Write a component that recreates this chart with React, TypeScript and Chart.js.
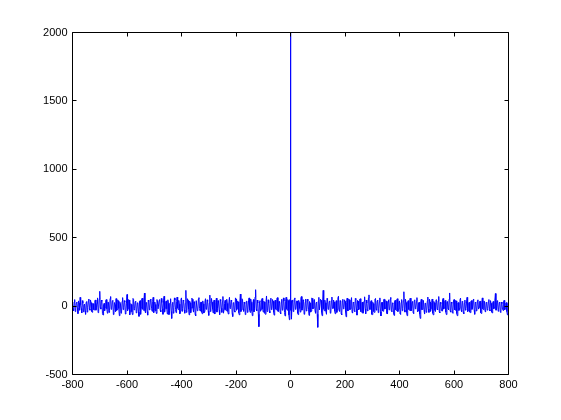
import React, { useEffect, useRef } from "react";
import { Chart, registerables } from "chart.js";

Chart.register(...registerables);

// lags -800, -798, ..., -4
const LEFT_START = -800;
// lags 4, 6, ..., 800
const RIGHT_START = 4;
const SIDE_STEP = 2;

const noiseLeft: number[] = [
  12, -20, -35, 30, 48, -40, -20, 25, 30, -15, -55, 38, 22, -30, 64, 10, -18, -50, 40, 22, -42, 5, 15, -35, -60, 28, 33, -44, -8, 36, 52, -22, -30, 45, 25, -38, -45, 20, 18, -26,
  -28, 38, 45, -30, -12, 20, 60, -48, -40, 50, 108, -10, -22, 44, 35, -56, -65, 12, 20, -34, -10, 42, 48, -20, -52, 30, 28, -46, -34, 55, 70, -24, -15, 36, 42, -62, -58, 26, 10, -40,
  55, -32, -25, 46, 38, -18, -70, 28, 16, -52, -44, 34, 62, -26, -12, 40, 30, -58, -48, 22, 85, -36, -20, 48, 44, -64, -36, 18, 12, -42, -62, 56, 50, -28, -18, 32, 36, -50, -40, 24,
  22, -44, -75, 36, 40, -60, -14, 52, 58, -22, -30, 40, 95, -34, -50, 26, 18, -40, -66, 44, 34, -28, -8, 50, 46, -16, -38, 34, 64, -48, -24, 30, 12, -36, -54, 48, 30, -20, -20, 42,
  48, -30, -42, 56, 26, -18, -60, 38, 72, -44, -16, 30, 38, -20, -58, 46, 20, -62, -34, 24, 54, -40, -90, 18, 28, -52, -12, 60, 44, -26, -48, 34, 66, -14, -26, 42, 14, -56, -38, 50,
  60, -38, -20, 44, 36, -28, -52, 20, 115, -46, -30, 54, 42, -22, -64, 36, 24, -48, -10, 58, 50, -16, -44, 32, 18, -60, -72, 40, 40, -34, -28, 52, 62, -18, -36, 28, 30, -44, -56, 38,
  16, -50, -40, 30, 54, -24, -22, 46, 34, -36, -68, 22, 80, -40, -14, 56, 28, -20, -50, 36, 44, -58, -30, 26, 58, -44, -18, 40, 24, -30, -62, 48, 36, -16, -46, 34, 70, -52, -26, 20,
  42, -26, -34, 50, 20, -40, -58, 32, 64, -18, -12, 44, 38, -54, -76, 24, 26, -36, -44, 60, 52, -30, -20, 38, 30, -48, -64, 22, 88, -40, -28, 54, 46, -20, -38, 30, 18, -62, -52, 36,
  34, -46, -22, 38, 60, -28, -46, 52, 28, -34, -70, 20, 48, -42, -18, 66, 120, -24, -36, 44, 22, -60, -150, 30, 40, -38, -26, 50, 56, -20, -44, 36, 30, -52, -60, 28, 74, -40, -32, 46,
  24, -36, -50, 42, 58, -26, -16, 48, 36, -44, -66, 30, 44, -22, -28, 56, 62, -38, -40, 34, 20, -48, -56, 26, 50, -30, -24, 60, 38, -46, -72, 36, 64, -20, -30, 48, 40, -64, -100,
];

const centerLags: number[] = [-3, -2, -1, 0, 1, 2, 3];
const centerValues: number[] = [-60, 48, -20, 2000, -30, 40, -70];

const noiseRight: number[] = [
  -95, 30, 45, -40, -30, 52, 60, -24, -20, 36, 38, -50, -62, 42, 26, -18, -44, 58, 70, -30, -18, 46, 34, -60, -58, 28, 52, -36, -26, 50, 40, -22, -68, 34, 22, -44, -36, 60, 56, -20,
  -14, 40, 48, -34, -52, 26, 30, -60, -155, 36, 64, -28, -28, 50, 42, -46, -70, 30, 115, -20, -34, 44, 24, -38, -60, 56, 46, -24, -20, 34, 38, -52, -48, 40, 66, -18, -16, 44, 30, -36,
  -56, 22, 40, -46, -24, 60, 72, -30, -38, 40, 28, -56, -64, 34, 50, -20, -12, 46, 34, -42, -78, 28, 58, -36, -30, 52, 44, -26, -20, 38, 62, -48, -50, 30, 26, -34, -40, 56, 48, -22,
  -66, 42, 36, -28, -18, 50, 54, -40, -44, 24, 30, -52, -28, 36, 68, -20, -56, 44, 22, -34, -36, 58, 82, -26, -24, 32, 40, -60, -62, 28, 18, -40, -46, 52, 56, -24, -30, 38, 44, -48,
  -20, 34, 60, -42, -72, 26, 28, -36, -38, 48, 50, -22, -14, 40, 36, -54, -58, 30, 46, -28, -26, 52, 64, -34, -40, 24, 20, -50, -68, 36, 42, -26, -32, 46, 54, -40, -22, 30, 38, -56,
  -60, 26, 48, -34, -16, 40, 105, -28, -44, 50, 26, -46, -70, 32, 40, -24, -30, 54, 58, -36, -20, 28, 34, -48, -54, 40, 46, -20, -12, 36, 62, -42, -36, 24, 28, -58, -90, 30, 50, -26,
  -24, 44, 38, -30, -58, 22, 20, -46, -34, 36, 66, -20, -46, 50, 30, -38, -18, 26, 52, -52, -64, 34, 24, -30, -40, 46, 44, -24, -28, 38, 70, -44, -50, 28, 18, -34, -36, 48, 56, -22,
  -14, 36, 42, -44, -62, 26, 34, -20, -26, 50, 96, -36, -44, 30, 20, -48, -52, 38, 48, -26, -30, 42, 38, -54, -70, 24, 26, -32, -18, 46, 58, -28, -40, 34, 30, -46, -56, 22, 44, -30,
  -20, 30, 64, -40, -34, 22, 28, -44, -48, 36, 40, -24, -16, 46, 52, -30, -60, 28, 22, -36, -30, 40, 46, -22, -12, 34, 36, -48, -54, 26, 60, -20, -26, 38, 30, -40, -42, 28, 24, -30,
  -18, 32, 48, -26, -36, 40, 20, -42, -50, 24, 34, -20, -10, 44, 92, -30, -28, 36, 40, -38, -22, 26, 30, -44, -46, 30, 18, -24, -32, 36, 42, -28, -16, 22, 26, -40, -64, 18, 10,
];

const xTicks: number[] = [-800, -600, -400, -200, 0, 200, 400, 600, 800];
const yTicks: number[] = [-500, 0, 500, 1000, 1500, 2000];

const FONT = "'Liberation Sans', Arial, Helvetica, sans-serif";

const boxTicksPlugin = {
  id: "boxTicks",
  afterDraw(chart: any) {
    const { ctx, chartArea } = chart;
    const { left, right, top, bottom } = chartArea;
    const xs = chart.scales.x;
    const ys = chart.scales.y;
    const len = 4;
    ctx.save();
    ctx.strokeStyle = "#000000";
    ctx.lineWidth = 1;
    ctx.beginPath();
    const L = Math.floor(left) + 0.5;
    const R = Math.floor(right) + 0.5;
    const T = Math.floor(top) + 0.5;
    const B = Math.floor(bottom) + 0.5;
    ctx.moveTo(L, T);
    ctx.lineTo(R, T);
    ctx.lineTo(R, B);
    ctx.lineTo(L, B);
    ctx.closePath();
    for (const v of xTicks) {
      const px = Math.floor(xs.getPixelForValue(v)) + 0.5;
      ctx.moveTo(px, B);
      ctx.lineTo(px, B - len);
      ctx.moveTo(px, T);
      ctx.lineTo(px, T + len);
    }
    for (const v of yTicks) {
      const py = Math.floor(ys.getPixelForValue(v)) + 0.5;
      ctx.moveTo(L, py);
      ctx.lineTo(L + len, py);
      ctx.moveTo(R, py);
      ctx.lineTo(R - len, py);
    }
    ctx.stroke();
    ctx.restore();
  },
};

export default function App() {
  const ref = useRef<HTMLCanvasElement | null>(null);

  useEffect(() => {
    document.body.style.margin = "0";
    const points = [
      ...noiseLeft.map((y, i) => ({ x: LEFT_START + i * SIDE_STEP, y })),
      ...centerValues.map((y, i) => ({ x: centerLags[i], y })),
      ...noiseRight.map((y, i) => ({ x: RIGHT_START + i * SIDE_STEP, y })),
    ];
    const chart = new Chart(ref.current as HTMLCanvasElement, {
      type: "line",
      data: {
        datasets: [
          {
            data: points,
            borderColor: "#0000ff",
            borderWidth: 1,
            pointRadius: 0,
            fill: false,
            tension: 0,
          },
        ],
      },
      options: {
        animation: false,
        responsive: false,
        parsing: false,
        normalized: true,
        layout: { padding: { top: 32.5, right: 52.5, left: 0, bottom: 0 } },
        plugins: { legend: { display: false }, tooltip: { enabled: false } },
        scales: {
          x: {
            type: "linear",
            min: -800,
            max: 800,
            afterBuildTicks: (s: any) => {
              s.ticks = xTicks.map((v) => ({ value: v }));
            },
            afterFit: (s: any) => {
              s.height = 45.5;
            },
            grid: { display: false, drawTicks: false },
            border: { display: false },
            ticks: {
              color: "#000000",
              font: { family: FONT, size: 11 },
              padding: 4,
              maxRotation: 0,
              autoSkip: false,
              callback: (v: any) => String(v),
            },
          },
          y: {
            type: "linear",
            min: -500,
            max: 2000,
            afterBuildTicks: (s: any) => {
              s.ticks = yTicks.map((v) => ({ value: v }));
            },
            afterFit: (s: any) => {
              s.width = 72.5;
            },
            grid: { display: false, drawTicks: false },
            border: { display: false },
            ticks: {
              color: "#000000",
              font: { family: FONT, size: 11 },
              padding: 5,
              autoSkip: false,
              callback: (v: any) => String(v),
            },
          },
        },
      },
      plugins: [boxTicksPlugin],
    });
    return () => chart.destroy();
  }, []);

  return <canvas ref={ref} width={561} height={420} style={{ display: "block" }} />;
}
